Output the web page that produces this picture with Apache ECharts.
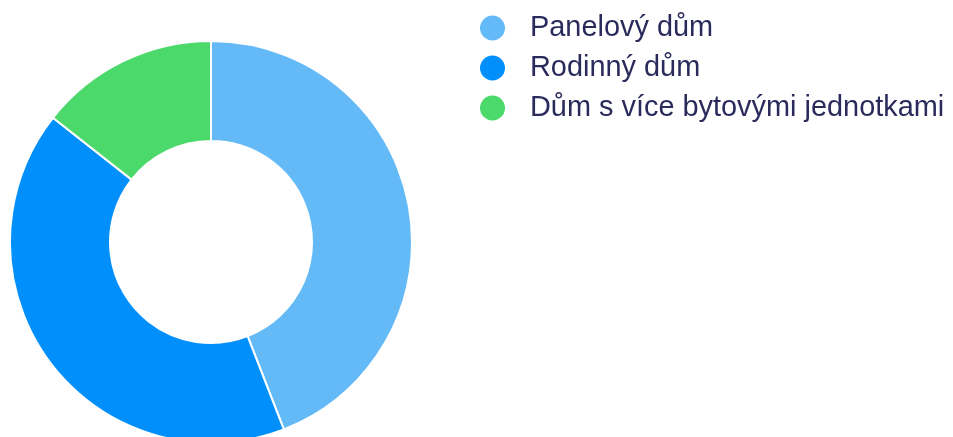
<!DOCTYPE html>
<html><head><meta charset="utf-8">
<script src="https://cdn.jsdelivr.net/npm/echarts@6/dist/echarts.min.js"></script>
<style>html,body{margin:0;padding:0;background:#fff}#c{width:953px;height:437px}</style>
</head><body><div id="c"></div>
<script>
const categories = ["Panelový dům", "Rodinný dům", "Dům s více bytovými jednotkami"];
const values = [44.1, 41.5, 14.4];
const colors = ["#63BAF6", "#008FFB", "#4CD96C"];

const chart = echarts.init(document.getElementById('c'), null, {renderer: 'canvas'});
chart.setOption({
  animation: false,
  color: colors,
  legend: {
    orient: 'vertical',
    left: 473,
    top: 8.5,
    icon: 'circle',
    itemWidth: 27,
    itemHeight: 27,
    itemGap: 11,
    data: categories,
    textStyle: {
      fontFamily: 'Liberation Sans, Arial, sans-serif',
      fontSize: 28.9,
      color: '#2A2A5C',
      padding: [0, 0, 0, 19]
    }
  },
  series: [{
    type: 'pie',
    center: [211, 242],
    radius: [101, 201],
    startAngle: 90,
    clockwise: true,
    label: {show: false},
    labelLine: {show: false},
    itemStyle: {borderColor: '#fff', borderWidth: 2},
    emphasis: {disabled: true},
    data: categories.map((n, i) => ({name: n, value: values[i]}))
  }]
});
</script></body></html>
